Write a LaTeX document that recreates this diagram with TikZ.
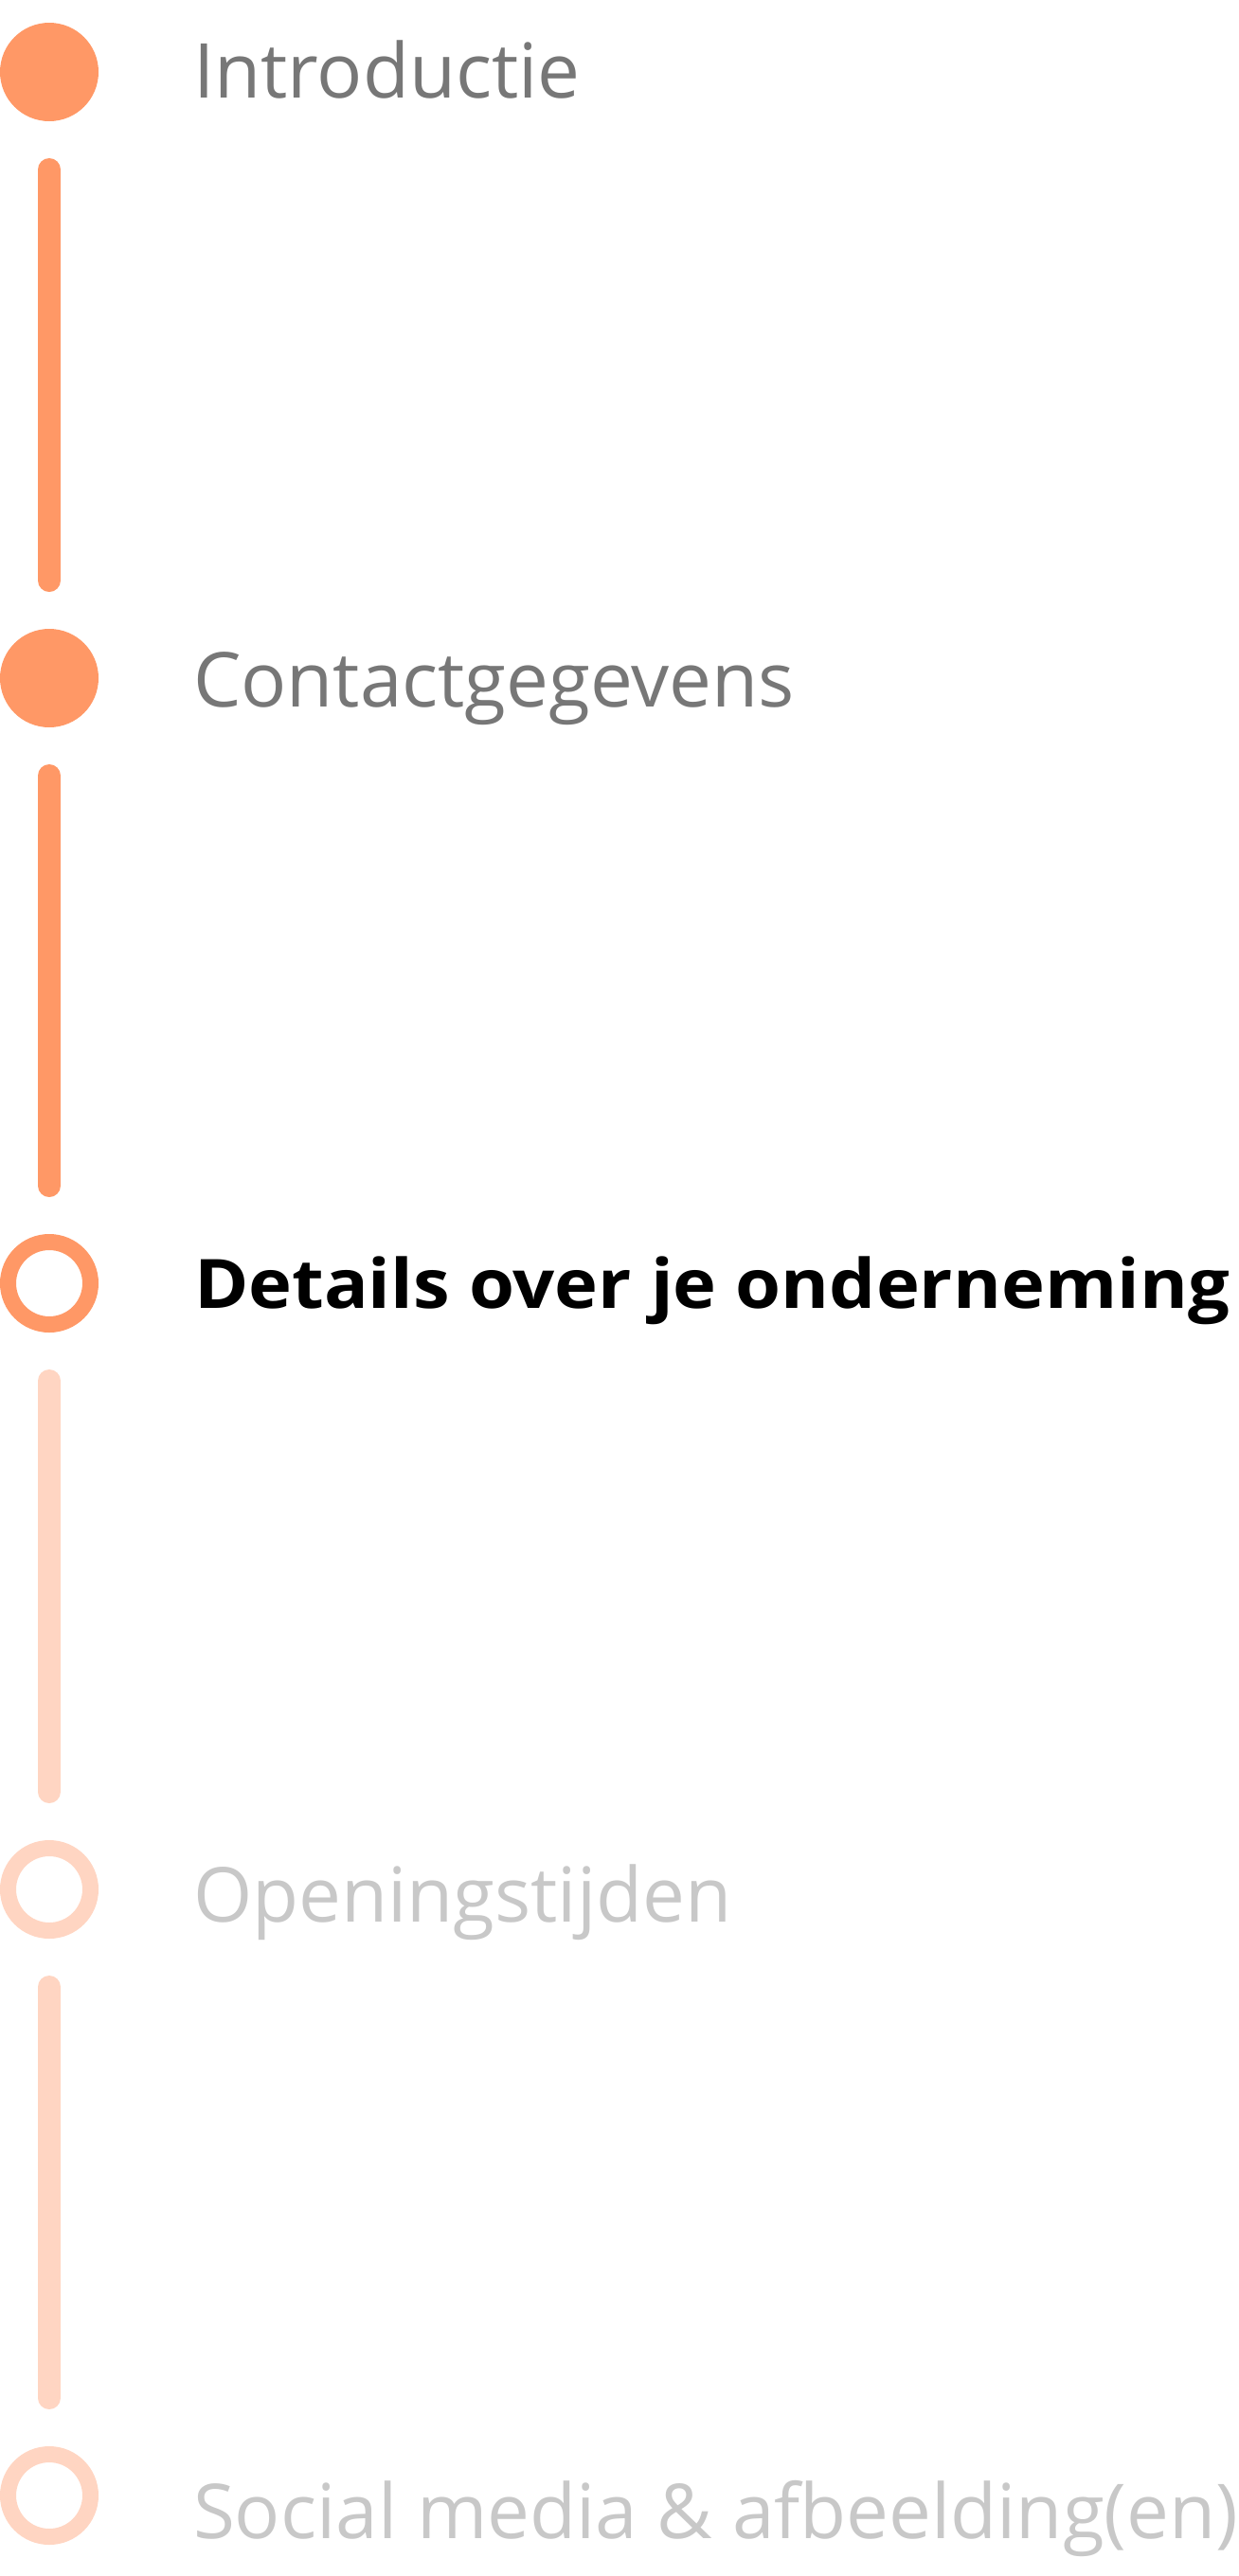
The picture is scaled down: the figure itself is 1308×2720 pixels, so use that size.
\documentclass[tikz,border=0pt]{standalone}
\usepackage{graphicx}
\usepackage{fontspec}
\setmainfont{Open Sans}
\definecolor{orangeA}{HTML}{FF9866}
\definecolor{orangeL}{HTML}{FFD5C2}
\definecolor{greyA}{HTML}{777777}
\definecolor{greyL}{HTML}{C8C8C8}
\newlength\boldw
\newcommand\boldtext{\fontsize{72}{86}\selectfont\bfseries Details over je onderneming}
\AtBeginDocument{\settowidth\boldw{\boldtext}}
\tikzset{
  donefill/.style={circle,fill=orangeA,minimum size=104pt,inner sep=0pt,outer sep=0pt},
  ringnode/.style={circle,draw=#1,line width=17pt,minimum size=87pt,inner sep=0pt,outer sep=8.5pt},
  stepline/.style={draw=#1,line width=24pt,line cap=round,shorten <=51pt,shorten >=51pt},
  steplabel/.style={anchor=base west,inner sep=0pt,outer sep=0pt,text=#1,font=\fontsize{80}{96}\selectfont}
}
\begin{document}
\begin{tikzpicture}[x=1pt,y=-1pt]
\useasboundingbox (0,0) rectangle (1308,2720);
\pgfmathsetmacro\boldsx{1093/\boldw}
\node[donefill] (c1) at (52,76) {};
\node[donefill] (c2) at (52,716) {};
\node[ringnode=orangeA] (c3) at (52,1355) {};
\node[ringnode=orangeL] (c4) at (52,1995) {};
\node[ringnode=orangeL] (c5) at (52,2635) {};
\draw[stepline=orangeA] (c1) -- (c2);
\draw[stepline=orangeA] (c2) -- (c3);
\draw[stepline=orangeL] (c3) -- (c4);
\draw[stepline=orangeL] (c4) -- (c5);
\node[steplabel=greyA] (t1) at (204,103) {Introductie};
\node[steplabel=greyA] (t2) at (204,746) {Contactgegevens};
\node[steplabel=black] (t3) at (205,1381) {\scalebox{\boldsx}[1]{\boldtext}};
\node[steplabel=greyL] (t4) at (204,2029) {Openingstijden};
\node[steplabel=greyL] (t5) at (204,2680) {Social media \& afbeelding(en)};
\end{tikzpicture}
\end{document}
